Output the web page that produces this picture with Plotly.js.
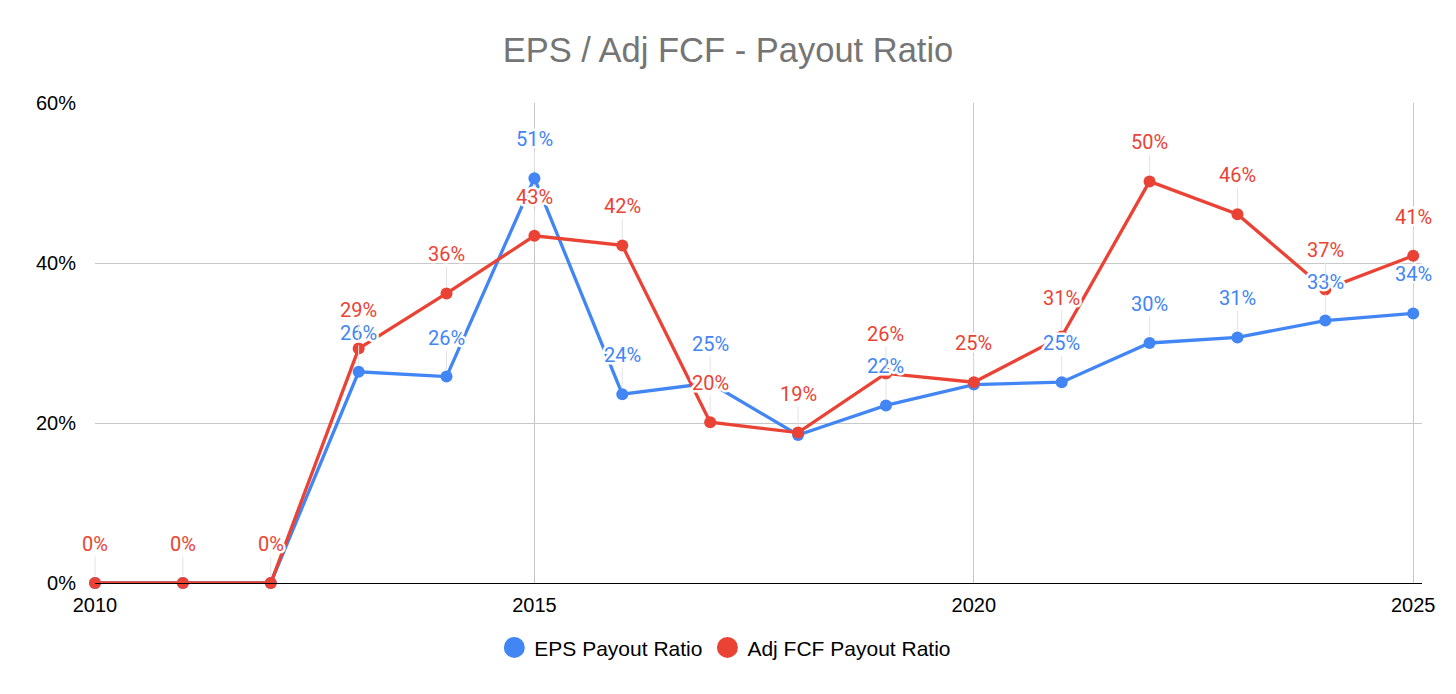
<!DOCTYPE html>
<html>
<head>
<meta charset="utf-8">
<script src="https://cdn.plot.ly/plotly-3.0.1.min.js"></script>
<style>
  html, body { margin: 0; padding: 0; background: #fff; }
  #chart { width: 1456px; height: 694px; }
</style>
</head>
<body>
<div id="chart"></div>
<script>
const years = [2010, 2011, 2012, 2013, 2014, 2015, 2016, 2017, 2018, 2019, 2020, 2021, 2022, 2023, 2024, 2025];
const epsPayout = [0, 0, 0, 26.4, 25.8, 50.6, 23.6, 25.0, 18.5, 22.2, 24.8, 25.1, 30.0, 30.7, 32.8, 33.7];
const fcfPayout = [0, 0, 0, 29.3, 36.2, 43.4, 42.2, 20.1, 18.8, 26.2, 25.1, 30.8, 50.2, 46.1, 36.7, 40.9];
// blue labels the original hides where they collide with the red ones
const epsHiddenLabels = [2010, 2011, 2012, 2018, 2020];
const yTicks = [0, 20, 40, 60];
const xTicks = [2010, 2015, 2020, 2025];

const BLUE = '#4285F4';
const RED = '#EA4335';

function lineTrace(name, ys, color) {
  return {
    x: years, y: ys, name: name, type: 'scatter', mode: 'lines+markers',
    line: {color: color, width: 3.3},
    marker: {color: color, size: 12},
    cliponaxis: false, showlegend: false, hoverinfo: 'x+y'
  };
}

// legend only: big round dots, no line
function legendTrace(name, color) {
  return {
    x: [null], y: [null], name: name, type: 'scatter', mode: 'markers',
    marker: {color: color, size: 16, line: {color: color, width: 5}}
  };
}

function labels(ys, color, hidden) {
  const out = [];
  ys.forEach((v, i) => {
    if (hidden.includes(years[i])) return;
    out.push({
      x: years[i], y: v, xref: 'x', yref: 'y',
      text: Math.round(v) + '%',
      showarrow: true, arrowhead: 0, arrowwidth: 1, arrowcolor: '#e3e3e3',
      ax: 0, ay: -39, standoff: 7, borderpad: 0,
      font: {family: 'Roboto, Arial, sans-serif', size: 20, color: color}
    });
  });
  return out;
}

const data = [
  lineTrace('EPS Payout Ratio', epsPayout, BLUE),
  lineTrace('Adj FCF Payout Ratio', fcfPayout, RED),
  legendTrace('EPS Payout Ratio', BLUE),
  legendTrace('Adj FCF Payout Ratio', RED)
];

const layout = {
  width: 1456, height: 694,
  margin: {l: 95, r: 34, t: 103, b: 111},
  paper_bgcolor: '#fff', plot_bgcolor: '#fff',
  font: {family: 'Arial, "Liberation Sans", sans-serif', size: 20, color: '#000'},
  title: {
    text: 'EPS / Adj FCF - Payout Ratio',
    font: {family: 'Arial, "Liberation Sans", sans-serif', size: 34.5, color: '#757575'},
    x: 0.5, xanchor: 'center', y: 0.928, yanchor: 'middle'
  },
  xaxis: {
    range: [2010, 2025.1], tickvals: xTicks, ticktext: xTicks.map(String),
    showgrid: true, gridcolor: '#c8c8c8', gridwidth: 1,
    showline: true, linecolor: '#000', linewidth: 1,
    zeroline: false, ticks: '', ticklabelstandoff: 4,
    tickfont: {size: 20, color: '#000'}
  },
  yaxis: {
    range: [0, 60], tickvals: yTicks, ticktext: yTicks.map(v => v + '%'),
    showgrid: true, gridcolor: '#c8c8c8', gridwidth: 1,
    zeroline: false, showline: false, ticks: '', ticklabelstandoff: 18,
    tickfont: {size: 20, color: '#000'}
  },
  legend: {
    orientation: 'h', x: 0.475, xanchor: 'center',
    y: -0.135, yanchor: 'middle',
    font: {size: 21, color: '#000'}, itemsizing: 'trace', itemgap: 42
  },
  annotations: labels(epsPayout, BLUE, epsHiddenLabels).concat(labels(fcfPayout, RED, [])),
  showlegend: true
};

Plotly.newPlot('chart', data, layout, {displayModeBar: false, staticPlot: true}).then(() => {
  // white halo round the point labels
  document.querySelectorAll('.annotation-text').forEach(t => {
    t.style.stroke = '#fff';
    t.style.strokeWidth = '5px';
    t.style.strokeLinejoin = 'round';
    t.style.paintOrder = 'stroke';
    t.setAttribute('paint-order', 'stroke');
  });
});
</script>
</body>
</html>
